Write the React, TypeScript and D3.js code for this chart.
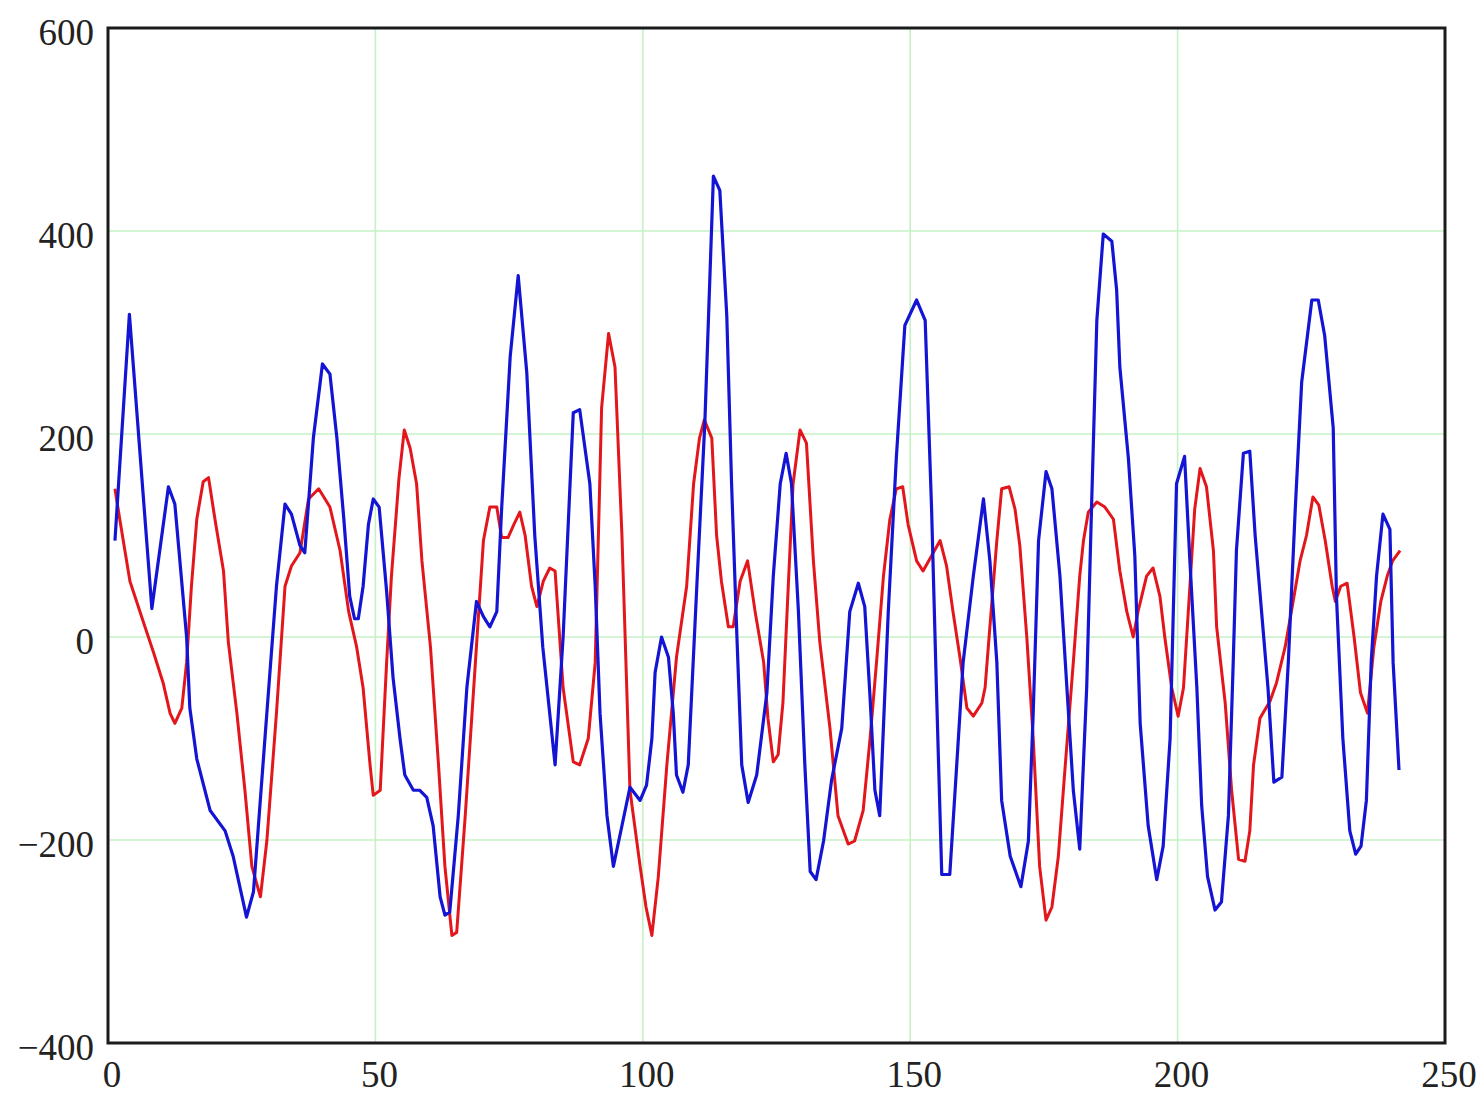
import React, { useEffect, useRef } from 'react';
import * as d3 from 'd3';

// two signals at their vertices: [sample, value]
const blueSeries: [number, number][] = [
  [1.3, 95], [4.0, 318], [8.2, 28], [11.3, 148], [12.5, 131], [14.7, 0], [15.3, -70],
  [16.6, -120], [19.1, -171], [21.9, -191], [23.4, -216], [25.9, -276], [27.2, -251],
  [29.7, -75], [31.5, 50], [33.1, 131], [34.3, 121], [35.9, 90], [36.8, 83], [38.4, 196],
  [40.1, 269], [41.5, 259], [42.8, 196], [44.1, 116], [45.2, 40], [46.1, 18], [46.8, 18],
  [47.7, 50], [48.7, 111], [49.6, 136], [50.7, 128], [52.1, 45], [53.3, -40], [54.6, -100],
  [55.5, -136], [57.1, -151], [58.3, -151], [59.6, -158], [60.8, -186], [62.1, -256],
  [63.0, -274], [63.9, -271], [65.5, -176], [67.1, -50], [68.9, 35], [70.2, 20], [71.4, 10],
  [72.7, 25], [73.6, 126], [75.2, 276], [76.7, 356], [78.3, 261], [79.8, 100], [81.3, -10],
  [83.6, -126], [85.1, 0], [87.0, 221], [88.2, 224], [90.1, 151], [91.1, 50], [92.0, -75],
  [93.3, -176], [94.5, -226], [96.1, -186], [97.6, -148], [99.5, -161], [100.7, -146],
  [101.7, -100], [102.3, -35], [103.5, 0], [104.8, -20], [105.7, -75], [106.3, -136],
  [107.5, -153], [108.5, -126], [110.1, 50], [111.6, 211], [113.2, 454], [114.4, 440],
  [115.7, 317], [116.6, 151], [117.6, 0], [118.5, -126], [119.7, -163], [121.3, -136],
  [123.2, -55], [124.4, 60], [125.7, 151], [126.8, 181], [127.8, 151], [129.1, 25],
  [130.3, -126], [131.3, -231], [132.4, -239], [133.8, -201], [135.3, -141], [137.2, -90],
  [138.7, 25], [140.3, 53], [141.5, 30], [142.5, -60], [143.4, -151], [144.3, -176],
  [145.9, 25], [147.4, 176], [149.0, 307], [151.2, 332], [152.8, 312], [154.0, 126],
  [154.9, -50], [155.9, -234], [157.4, -234], [158.7, -126], [159.9, -25], [161.8, 60],
  [163.7, 136], [164.9, 75], [166.2, -25], [167.1, -161], [168.7, -216], [170.7, -246],
  [172.1, -201], [173.0, -75], [174.0, 95], [175.4, 163], [176.5, 146], [178.0, 60],
  [179.3, -50], [180.5, -151], [181.7, -209], [183.0, -50], [183.9, 126], [184.9, 312],
  [186.1, 397], [187.7, 390], [188.6, 342], [189.2, 266], [190.8, 176], [192.0, 80],
  [193.0, -85], [194.5, -186], [196.1, -239], [197.3, -206], [198.6, -100], [199.8, 151],
  [201.3, 178], [202.3, 75], [203.6, -50], [204.5, -166], [205.6, -236], [207.0, -269],
  [208.2, -261], [209.5, -176], [210.4, -25], [211.0, 85], [212.3, 181], [213.5, 183],
  [214.5, 100], [215.7, 25], [216.9, -50], [218.0, -143], [219.5, -138], [220.7, -25],
  [222.0, 126], [223.2, 251], [225.1, 332], [226.3, 332], [227.5, 297], [229.1, 206],
  [229.7, 40], [230.9, -100], [232.2, -191], [233.3, -214], [234.3, -206], [235.3, -161],
  [236.2, -25], [237.2, 60], [238.4, 121], [239.7, 106], [240.3, -25], [241.4, -131],
];

const redSeries: [number, number][] = [
  [1.3, 146], [2.2, 116], [4.1, 55], [6.6, 15], [8.5, -15], [10.3, -45], [11.6, -75],
  [12.5, -85], [13.8, -70], [14.7, -25], [15.6, 50], [16.6, 116], [17.8, 153], [18.8, 157],
  [20.0, 116], [21.6, 65], [22.5, -5], [24.1, -75], [25.6, -151], [26.9, -226], [28.5, -256],
  [29.7, -201], [31.5, -75], [33.1, 50], [34.3, 70], [35.9, 83], [37.5, 136], [39.4, 146],
  [41.5, 128], [43.4, 85], [45.0, 25], [46.5, -10], [47.7, -50], [49.0, -126], [49.6, -156],
  [50.9, -151], [52.1, -25], [53.0, 60], [54.4, 156], [55.4, 204], [56.5, 186], [57.7, 151],
  [58.7, 75], [60.3, -10], [61.8, -126], [63.0, -226], [64.3, -294], [65.2, -291],
  [66.8, -176], [68.7, -25], [70.2, 95], [71.4, 128], [72.7, 128], [73.6, 98], [74.8, 98],
  [75.9, 111], [77.0, 123], [78.0, 100], [79.2, 50], [80.2, 30], [81.4, 55], [82.6, 68],
  [83.6, 65], [85.1, -50], [87.0, -123], [88.2, -126], [89.8, -100], [91.1, -25],
  [92.3, 226], [93.6, 299], [94.8, 266], [96.1, 100], [97.6, -151], [99.5, -226],
  [100.6, -266], [101.7, -294], [102.9, -236], [104.5, -126], [106.3, -20], [108.2, 50],
  [109.5, 151], [110.6, 196], [111.5, 214], [112.9, 196], [113.8, 100], [114.7, 55],
  [116.0, 10], [116.9, 10], [118.2, 55], [119.6, 75], [121.0, 25], [122.6, -25],
  [123.4, -80], [124.4, -123], [125.3, -116], [126.2, -65], [127.2, 50], [128.1, 151],
  [129.4, 204], [130.6, 191], [131.9, 75], [133.1, -5], [135.0, -90], [136.5, -176],
  [138.4, -204], [139.6, -201], [141.2, -171], [142.5, -100], [143.7, -25], [145.0, 60],
  [146.2, 116], [147.4, 146], [148.6, 148], [149.6, 111], [151.2, 75], [152.4, 65],
  [154.0, 80], [155.6, 95], [156.8, 70], [158.0, 25], [159.3, -20], [160.6, -70],
  [161.8, -78], [163.4, -65], [164.0, -50], [164.9, 10], [166.2, 95], [167.1, 146],
  [168.5, 148], [169.6, 126], [170.5, 90], [171.8, 0], [173.0, -100], [174.2, -226],
  [175.4, -279], [176.5, -266], [177.7, -216], [179.0, -126], [180.5, -25], [181.7, 60],
  [182.4, 95], [183.3, 123], [184.9, 133], [186.4, 128], [188.0, 116], [189.2, 65],
  [190.5, 25], [191.7, 0], [192.6, 25], [194.2, 60], [195.4, 68], [196.7, 40], [197.6, 0],
  [198.9, -50], [200.1, -78], [201.1, -50], [202.3, 50], [203.2, 126], [204.2, 166],
  [205.4, 148], [206.7, 85], [207.3, 10], [208.9, -65], [210.1, -151], [211.4, -219],
  [212.6, -221], [213.5, -191], [214.2, -126], [215.4, -80], [217.3, -63], [218.5, -45],
  [220.1, -10], [221.6, 35], [222.9, 75], [224.1, 100], [225.3, 138], [226.4, 130],
  [227.6, 95], [228.9, 50], [229.5, 35], [230.5, 50], [231.7, 53], [233.0, 0], [234.2, -55],
  [235.5, -75], [236.7, -10], [238.0, 35], [239.2, 60], [240.2, 75], [241.6, 85],
];

const xTicks = [0, 50, 100, 150, 200, 250];
const yTicks = [-400, -200, 0, 200, 400, 600];

const WIDTH = 1479;
const HEIGHT = 1095;
const MARGIN = { top: 28, right: 34, bottom: 52, left: 108 };

const App: React.FC = () => {
  const svgRef = useRef<SVGSVGElement>(null);

  useEffect(() => {
    const svg = d3.select(svgRef.current);
    svg.selectAll('*').remove();

    const x = d3.scaleLinear().domain([0, 250]).range([MARGIN.left, WIDTH - MARGIN.right]);
    const y = d3.scaleLinear().domain([-400, 600]).range([HEIGHT - MARGIN.bottom, MARGIN.top]);

    svg.append('rect')
      .attr('width', WIDTH)
      .attr('height', HEIGHT)
      .attr('fill', '#fff');

    // grid
    const grid = svg.append('g').attr('stroke', '#c4f2c4').attr('stroke-width', 1.6);
    grid.selectAll('line.gx')
      .data(xTicks.slice(1, -1))
      .enter().append('line')
      .attr('class', 'gx')
      .attr('x1', d => x(d)).attr('x2', d => x(d))
      .attr('y1', y(600)).attr('y2', y(-400));
    grid.selectAll('line.gy')
      .data(yTicks.slice(1, -1))
      .enter().append('line')
      .attr('class', 'gy')
      .attr('x1', x(0)).attr('x2', x(250))
      .attr('y1', d => y(d)).attr('y2', d => y(d));

    // lines
    const line = d3.line<[number, number]>()
      .x(d => x(d[0]))
      .y(d => y(d[1]));

    svg.append('path')
      .datum(redSeries)
      .attr('fill', 'none')
      .attr('stroke', '#e3161c')
      .attr('stroke-width', 3)
      .attr('stroke-linejoin', 'round')
      .attr('d', line);

    svg.append('path')
      .datum(blueSeries)
      .attr('fill', 'none')
      .attr('stroke', '#1414d4')
      .attr('stroke-width', 3.2)
      .attr('stroke-linejoin', 'round')
      .attr('d', line);

    // frame
    svg.append('rect')
      .attr('x', x(0))
      .attr('y', y(600))
      .attr('width', x(250) - x(0))
      .attr('height', y(-400) - y(600))
      .attr('fill', 'none')
      .attr('stroke', '#1b1b1b')
      .attr('stroke-width', 3);

    const font = "'Liberation Serif', 'DejaVu Serif', serif";

    // tick labels
    svg.selectAll('text.xl')
      .data(xTicks)
      .enter().append('text')
      .attr('class', 'xl')
      .attr('x', d => x(d) + 4)
      .attr('y', HEIGHT - 8)
      .attr('text-anchor', 'middle')
      .style('font-family', font)
      .style('font-size', '37px')
      .style('fill', '#222')
      .text(d => String(d));

    svg.selectAll('text.yl')
      .data(yTicks)
      .enter().append('text')
      .attr('class', 'yl')
      .attr('x', 94)
      .attr('y', d => y(d) + 17)
      .attr('text-anchor', 'end')
      .style('font-family', font)
      .style('font-size', '37px')
      .style('fill', '#222')
      .text(d => (d < 0 ? '\u2212' + Math.abs(d) : String(d)));
  }, []);

  return (
    <svg
      ref={svgRef}
      width={WIDTH}
      height={HEIGHT}
      style={{ position: 'absolute', left: 0, top: 0 }}
    />
  );
};

export default App;
